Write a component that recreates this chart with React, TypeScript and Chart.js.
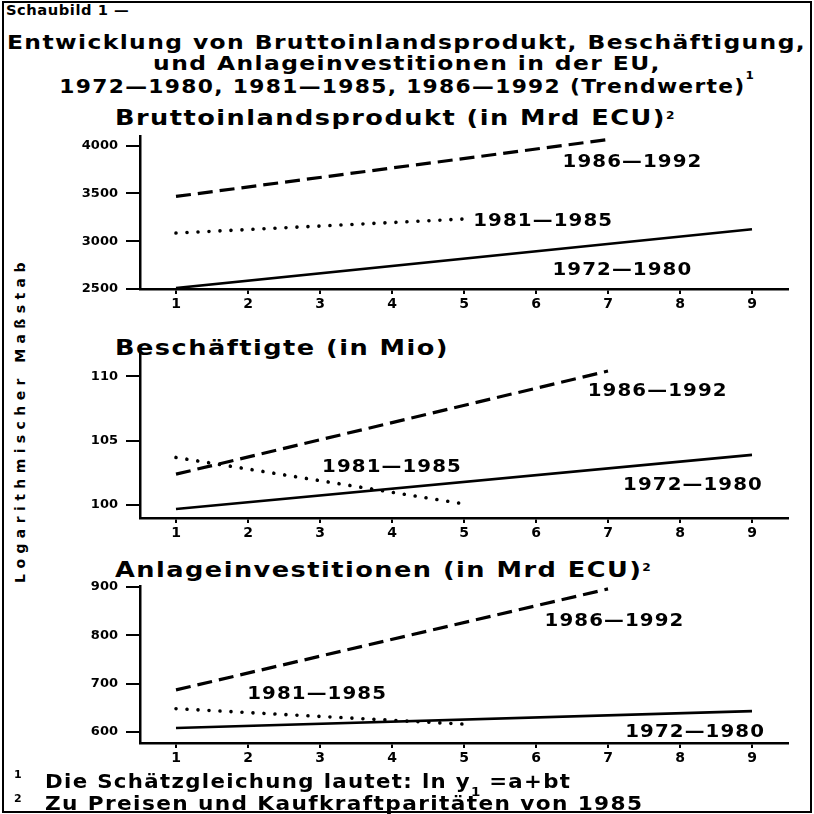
import React, { useEffect, useRef } from 'react';
import { Chart, registerables } from 'chart.js';

Chart.register(...registerables);

const FONT = '"DejaVu Sans", Verdana, sans-serif';

// ---- data ----
const xTicks = [1, 2, 3, 4, 5, 6, 7, 8, 9];
const periods = ['1972—1980', '1981—1985', '1986—1992'];
const x1972 = [1, 9];
const x1981 = [1, 5];
const x1986 = [1, 7];

const gdp1972 = [2510, 3125];
const gdp1981 = [3085, 3232];
const gdp1986 = [3468, 4063];
const gdpTicks = [2500, 3000, 3500, 4000];

const emp1972 = [99.7, 103.9];
const emp1981 = [103.7, 100.1];
const emp1986 = [102.4, 110.4];
const empTicks = [100, 105, 110];

const inv1972 = [608, 643];
const inv1981 = [648, 616];
const inv1986 = [687, 896];
const invTicks = [600, 700, 800, 900];

// ---- panel layout (pixels) and label anchors (data coords) ----
const panels = [
  {
    top: 136, bottom: 289, yMin: 2500, yMax: 4100, yTicks: gdpTicks,
    series: [gdp1972, gdp1981, gdp1986],
    labelAt: [[7.2, 2700], [6.1, 3210], [7.34, 3822]],
  },
  {
    top: 353, bottom: 518, yMin: 99, yMax: 111.8, yTicks: empTicks,
    series: [emp1972, emp1981, emp1986],
    labelAt: [[8.18, 101.5], [4.0, 102.9], [7.69, 108.8]],
  },
  {
    top: 586, bottom: 743, yMin: 577, yMax: 902, yTicks: invTicks,
    series: [inv1972, inv1981, inv1986],
    labelAt: [[8.21, 600], [2.96, 677], [7.09, 828]],
  },
];

const xs = [x1972, x1981, x1986];
const lineStyles = [
  { borderWidth: 2.6, borderDash: [] as number[], borderCapStyle: 'butt' },
  { borderWidth: 3.6, borderDash: [0.01, 11], borderCapStyle: 'round' },
  { borderWidth: 3.2, borderDash: [15, 7], borderCapStyle: 'butt' },
];

const W = 814;
const X_AXIS_H = 30;

function Panel({ p }: { p: any }) {
  const ref = useRef<HTMLCanvasElement>(null);
  useEffect(() => {
    if (!ref.current) return;
    const labelPlugin = {
      id: 'periodLabels',
      afterDatasetsDraw(chart: any) {
        const { ctx, scales } = chart;
        ctx.save();
        ctx.fillStyle = '#000';
        ctx.font = `bold 18px ${FONT}`;
        (ctx as any).letterSpacing = '1px';
        ctx.textAlign = 'center';
        ctx.textBaseline = 'middle';
        periods.forEach((t, i) => {
          const [lx, ly] = p.labelAt[i];
          const px = scales.x.getPixelForValue(lx);
          const py = scales.y.getPixelForValue(ly);
          ctx.save();
          ctx.translate(px, py);
          ctx.scale(1.1, 1);
          ctx.fillText(t, 0, 0);
          ctx.restore();
        });
        ctx.restore();
      },
    };
    const chart = new Chart(ref.current, {
      type: 'line',
      data: {
        datasets: p.series.map((s: number[], i: number) => ({
          data: xs[i].map((x, j) => ({ x, y: s[j] })),
          borderColor: '#000',
          pointRadius: 0,
          tension: 0,
          fill: false,
          ...lineStyles[i],
        })),
      },
      options: {
        responsive: false,
        animation: false,
        events: [],
        layout: {
          padding: { left: 0, right: W - 788, top: p.top, bottom: W - p.bottom - X_AXIS_H },
        },
        plugins: { legend: { display: false }, tooltip: { enabled: false } },
        scales: {
          x: {
            type: 'linear',
            min: 0.5,
            max: 9.5,
            afterBuildTicks: (s: any) => { s.ticks = xTicks.map((v) => ({ value: v })); },
            afterFit: (s: any) => { s.height = X_AXIS_H; },
            grid: { drawOnChartArea: false, drawTicks: true, tickLength: 5, color: '#000', lineWidth: 2 },
            border: { display: true, color: '#000', width: 2.5 },
            ticks: {
              color: '#000', font: { family: FONT, size: 14, weight: 'bold' }, padding: 2,
              maxRotation: 0, autoSkip: false, callback: (v: any) => String(v),
            },
          },
          y: {
            type: 'linear',
            min: p.yMin,
            max: p.yMax,
            afterBuildTicks: (s: any) => { s.ticks = p.yTicks.map((v: number) => ({ value: v })); },
            afterFit: (s: any) => { s.width = 140; },
            grid: { drawOnChartArea: false, drawTicks: true, tickLength: 14, color: '#000', lineWidth: 2 },
            border: { display: true, color: '#000', width: 2.5 },
            ticks: {
              color: '#000', font: { family: FONT, size: 13, weight: 'bold' }, padding: 8,
              autoSkip: false, callback: (v: any) => String(v),
            },
          },
        },
      } as any,
      plugins: [labelPlugin],
    });
    return () => chart.destroy();
  }, [p]);
  return (
    <canvas
      ref={ref}
      width={W}
      height={W}
      style={{ position: 'absolute', left: 0, top: 0, width: W, height: W, pointerEvents: 'none' }}
    />
  );
}

function Txt({ x, cy, size, ls, sx = 1, children, center }: any) {
  const style: React.CSSProperties = {
    position: 'absolute',
    top: cy - size * 0.5,
    fontSize: size,
    lineHeight: `${size}px`,
    fontWeight: 'bold',
    fontFamily: FONT,
    whiteSpace: 'nowrap',
    color: '#000',
  };
  if (center) {
    style.left = 0;
    style.width = W;
    style.textAlign = 'center';
  } else {
    style.left = x;
  }
  return (
    <div style={style}>
      <span
        style={{
          display: 'inline-block',
          letterSpacing: ls,
          transform: `scaleX(${sx})`,
          transformOrigin: center ? 'center' : 'left',
        }}
      >
        {children}
      </span>
    </div>
  );
}

const sup = (t: string, raise: number, size = 11) => (
  <span style={{ fontSize: size, position: 'relative', top: -raise, letterSpacing: 0 }}>{t}</span>
);

export default function App() {
  return (
    <div
      style={{
        position: 'absolute', left: 0, top: 0, width: W, height: W,
        background: '#fff', overflow: 'hidden',
      }}
    >
      <div
        style={{
          position: 'absolute', left: 2, top: 1, width: 806, height: 808,
          border: '2px solid #000',
        }}
      />
      <Txt x={6} cy={10} size={14} ls={0.5} sx={1.05}>Schaubild 1 —</Txt>
      <Txt center cy={42} size={20} ls={1.2} sx={1.17}>Entwicklung von Bruttoinlandsprodukt, Beschäftigung,</Txt>
      <Txt center cy={63} size={20} ls={1.2} sx={1.17}>und Anlageinvestitionen in der EU,</Txt>
      <Txt center cy={86} size={20} ls={1.2} sx={1.09}>1972—1980, 1981—1985, 1986—1992 (Trendwerte){sup('1', 14)}</Txt>

      <Txt x={115} cy={118} size={21} ls={1.2} sx={1.22}>Bruttoinlandsprodukt (in Mrd ECU){sup('2', 6, 10)}</Txt>
      <Txt x={115} cy={348} size={21} ls={1.2} sx={1.22}>Beschäftigte (in Mio)</Txt>
      <Txt x={115} cy={570} size={21} ls={1.2} sx={1.22}>Anlageinvestitionen (in Mrd ECU){sup('2', 6, 10)}</Txt>

      <div
        style={{
          position: 'absolute', left: 20 - 200, top: 420 - 10, width: 400, height: 20,
          lineHeight: '20px', textAlign: 'center', transform: 'rotate(-90deg)',
          fontFamily: FONT, fontWeight: 'bold', fontSize: 14, letterSpacing: 5.4, whiteSpace: 'nowrap',
        }}
      >
        Logarithmischer Maßstab
      </div>

      {panels.map((p, i) => (
        <Panel key={i} p={p} />
      ))}

      <Txt x={14} cy={774} size={11} ls={0}>1</Txt>
      <Txt x={45} cy={781} size={19} ls={1.2} sx={1.12}>
        Die Schätzgleichung lautet: ln y
        <span style={{ fontSize: 12, position: 'relative', top: 8, letterSpacing: 0 }}>1</span>
        {' '}=a+bt
      </Txt>
      <Txt x={14} cy={798} size={11} ls={0}>2</Txt>
      <Txt x={45} cy={803} size={19} ls={1.2} sx={1.14}>Zu Preisen und Kaufkraftparitäten von 1985</Txt>
    </div>
  );
}
